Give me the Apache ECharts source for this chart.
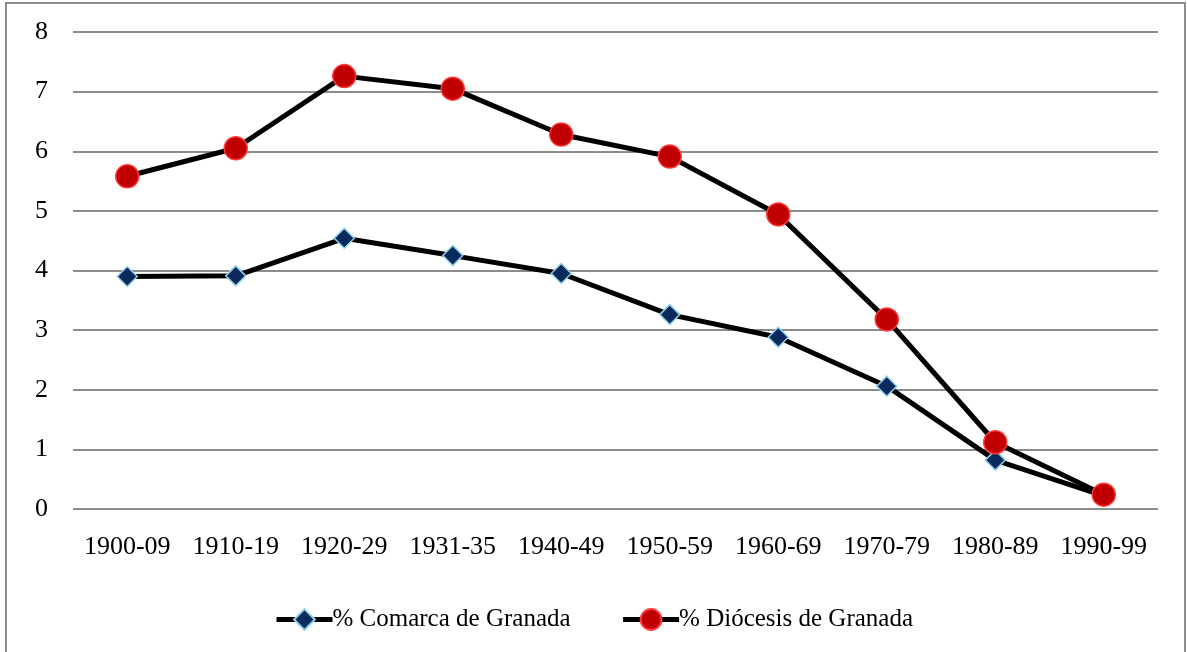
<!DOCTYPE html>
<html>
<head>
<meta charset="utf-8">
<style>
  html, body { margin: 0; padding: 0; background: #fff; }
  #main { width: 1187px; height: 652px; }
</style>
<script src="https://cdn.jsdelivr.net/npm/echarts@6/dist/echarts.min.js"></script>
</head>
<body>
<div id="main"></div>
<script>
var periods = ['1900-09', '1910-19', '1920-29', '1931-35', '1940-49', '1950-59', '1960-69', '1970-79', '1980-89', '1990-99'];
var comarca = [3.90, 3.91, 4.54, 4.25, 3.95, 3.26, 2.88, 2.06, 0.82, 0.22];
var diocesis = [5.58, 6.05, 7.26, 7.05, 6.28, 5.91, 4.94, 3.18, 1.12, 0.24];
var yTicks = [0, 8, 1]; // min, max, interval

var font = '"Liberation Serif", "Times New Roman", serif';

var chart = echarts.init(document.getElementById('main'));

var option = {
    backgroundColor: '#fff',
    animation: false,
    graphic: [{
        type: 'rect',
        shape: {x: 6, y: 3, width: 1179, height: 670},
        style: {fill: 'none', stroke: '#8c8c8c', lineWidth: 2},
        silent: true
    }],
    grid: {left: 73, right: 29, top: 32, bottom: 143},
    legend: {
        bottom: 15,
        left: 'center',
        itemWidth: 56,
        itemHeight: 26,
        itemGap: 50,
        textStyle: {fontFamily: font, fontSize: 25, color: '#000', padding: [0, 0, 0, -5]},
        data: [
            {name: '% Comarca de Granada', lineStyle: {width: 5}},
            {name: '% Diócesis de Granada', lineStyle: {width: 5}}
        ]
    },
    xAxis: {
        type: 'category',
        data: periods,
        boundaryGap: true,
        axisLine: {show: false},
        axisTick: {show: false},
        axisLabel: {fontFamily: font, fontSize: 26, color: '#000', margin: 25, interval: 0}
    },
    yAxis: {
        type: 'value',
        min: yTicks[0],
        max: yTicks[1],
        interval: yTicks[2],
        axisLine: {show: false},
        axisTick: {show: false},
        axisLabel: {fontFamily: font, fontSize: 26, color: '#000', margin: 25},
        splitLine: {lineStyle: {color: '#8c8c8c', width: 2}}
    },
    series: [
        {
            name: '% Comarca de Granada',
            type: 'line',
            data: comarca,
            symbol: 'diamond',
            symbolSize: 20,
            lineStyle: {color: '#000', width: 5},
            itemStyle: {color: '#0b2a5c', borderColor: '#8fd0ea', borderWidth: 1.5}
        },
        {
            name: '% Diócesis de Granada',
            type: 'line',
            data: diocesis,
            symbol: 'circle',
            symbolSize: 23,
            lineStyle: {color: '#000', width: 5},
            itemStyle: {color: '#c00000', borderColor: '#ff3b3b', borderWidth: 1.5}
        }
    ]
};

chart.setOption(option);
</script>
</body>
</html>
